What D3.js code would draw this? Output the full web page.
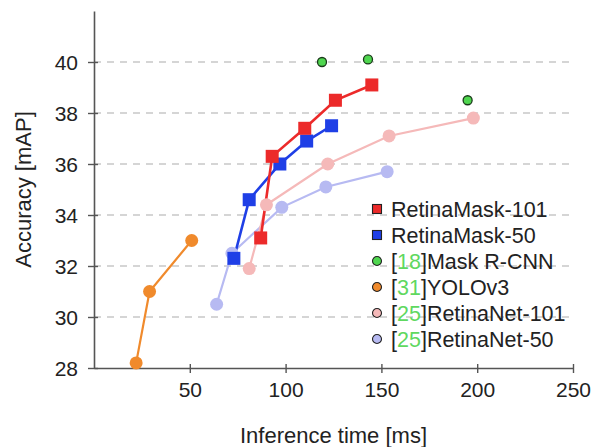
<!DOCTYPE html>
<html>
<head>
<meta charset="utf-8">
<script src="https://cdn.jsdelivr.net/npm/d3@7"></script>
<style>
  body { margin: 0; background: #fff; }
  svg text { font-family: "Liberation Sans", Arial, sans-serif; fill: #222; }
</style>
</head>
<body>
<svg id="chart" width="592" height="447"></svg>
<script>
// values: [inference ms, mAP]
const retinaMask101 = [[87, 33.1], [93, 36.3], [110, 37.4], [126, 38.5], [145, 39.1]]
const retinaMask50 = [[73, 32.3], [81, 34.6], [97, 36.0], [111, 36.9], [124, 37.5]]
const maskRCNN = [[119, 40.0], [143, 40.1], [195, 38.5]]
const yolov3 = [[22, 28.2], [29, 31.0], [51, 33.0]]
const retinaNet101 = [[81, 31.9], [90, 34.4], [122, 36.0], [154, 37.1], [198, 37.8]]
const retinaNet50 = [[64, 30.5], [72, 32.5], [98, 34.3], [121, 35.1], [153, 35.7]]

const xTicks = [50, 100, 150, 200, 250]
const yTicks = [28, 30, 32, 34, 36, 38, 40]
const gridTicks = [30, 32, 34, 36, 38, 40]

const series = [
  { name: "[25]RetinaNet-50", data: retinaNet50, color: "#b7baf2", shape: "circle", line: true, r: 6.5 },
  { name: "[25]RetinaNet-101", data: retinaNet101, color: "#f5b9b9", shape: "circle", line: true, r: 6.5 },
  { name: "[31]YOLOv3", data: yolov3, color: "#f08a2c", shape: "circle", line: true, r: 6.5 },
  { name: "RetinaMask-50", data: retinaMask50, color: "#1f3fe6", shape: "square", line: true },
  { name: "RetinaMask-101", data: retinaMask101, color: "#ec2a2a", shape: "square", line: true },
  { name: "[18]Mask R-CNN", data: maskRCNN, color: "#4fd64f", shape: "circle", line: false, r: 4.5, stroke: "#1a3a1a" }
]
const legendOrder = ["RetinaMask-101", "RetinaMask-50", "[18]Mask R-CNN", "[31]YOLOv3", "[25]RetinaNet-101", "[25]RetinaNet-50"]

const svg = d3.select("#chart")
const margin = { left: 94, right: 19, top: 11, bottom: 79 }
const width = 592, height = 447

const x = d3.scaleLinear().domain([0, 250]).range([margin.left, width - margin.right])
const y = d3.scaleLinear().domain([28, 42]).range([height - margin.bottom, margin.top])

// dashed grid
svg.append("g").selectAll("line")
  .data(gridTicks).enter().append("line")
  .attr("x1", x(0)).attr("x2", x(250))
  .attr("y1", d => y(d)).attr("y2", d => y(d))
  .attr("stroke", "#c8c8c8").attr("stroke-width", 1.3)
  .attr("stroke-dasharray", "7,6")

// axes
const xAxis = d3.axisBottom(x).tickValues(xTicks).tickSize(0).tickPadding(14)
const gx = svg.append("g").attr("transform", "translate(0," + y(28) + ")").call(xAxis)
const yAxis = d3.axisLeft(y).tickValues(yTicks).tickSize(0).tickPadding(16)
const gy = svg.append("g").attr("transform", "translate(" + x(0) + ",0)").call(yAxis)

;[gx, gy].forEach(g => {
  g.select(".domain").attr("stroke", "#555").attr("stroke-width", 1.6)
  g.selectAll("text").attr("font-size", 21).attr("fill", "#222")
    .style("font-family", "'Liberation Sans', Arial, sans-serif")
})
// crossing tick marks
gx.selectAll(".tick").append("line").attr("y1", -4).attr("y2", 5).attr("stroke", "#555").attr("stroke-width", 1.4)
gy.selectAll(".tick").append("line").attr("x1", -6).attr("x2", 4).attr("stroke", "#555").attr("stroke-width", 1.4)
gy.selectAll(".tick text").attr("dy", "0.36em")

// axis titles
svg.append("text").attr("x", (x(0) + x(250)) / 2).attr("y", 443)
  .attr("text-anchor", "middle").attr("font-size", 22).text("Inference time [ms]")
svg.append("text").attr("transform", "translate(31," + (y(28) + y(42)) / 2 + ") rotate(-90)")
  .attr("text-anchor", "middle").attr("font-size", 22).text("Accuracy [mAP]")

// lines
const line = d3.line().x(d => x(d[0])).y(d => y(d[1]))
series.filter(s => s.line).forEach(s => {
  svg.append("path").datum(s.data)
    .attr("d", line).attr("fill", "none")
    .attr("stroke", s.color).attr("stroke-width", s.shape === "square" ? 2.6 : 2.2)
})

// markers
series.forEach(s => {
  const g = svg.append("g")
  if (s.shape === "square") {
    g.selectAll("rect").data(s.data).enter().append("rect")
      .attr("x", d => x(d[0]) - 6.5).attr("y", d => y(d[1]) - 6.5)
      .attr("width", 13).attr("height", 13)
      .attr("fill", s.color)
  } else {
    g.selectAll("circle").data(s.data).enter().append("circle")
      .attr("cx", d => x(d[0])).attr("cy", d => y(d[1])).attr("r", s.r)
      .attr("fill", s.color)
      .attr("stroke", s.stroke || "none").attr("stroke-width", 1.3)
  }
})

// legend
const legend = svg.append("g").attr("transform", "translate(377,209)")
legendOrder.forEach((name, i) => {
  const s = series.find(d => d.name === name)
  const row = legend.append("g").attr("transform", "translate(0," + i * 26 + ")")
  if (s.shape === "square") {
    row.append("rect").attr("x", -4.5).attr("y", -4.5).attr("width", 9).attr("height", 9)
      .attr("fill", s.color).attr("stroke", "#222").attr("stroke-width", 1.1)
  } else {
    row.append("circle").attr("r", 4.5).attr("fill", s.color)
      .attr("stroke", "#222").attr("stroke-width", 1.1)
  }
  const t = row.append("text").attr("x", 14).attr("dy", "0.36em").attr("font-size", 21.5)
  const m = name.match(/^\[(\d+)\](.*)$/)
  if (m) {
    t.append("tspan").text("[")
    t.append("tspan").attr("fill", "#5fd85f").text(m[1])
    t.append("tspan").text("]" + m[2])
  } else {
    t.text(name)
  }
})
</script>
</body>
</html>
